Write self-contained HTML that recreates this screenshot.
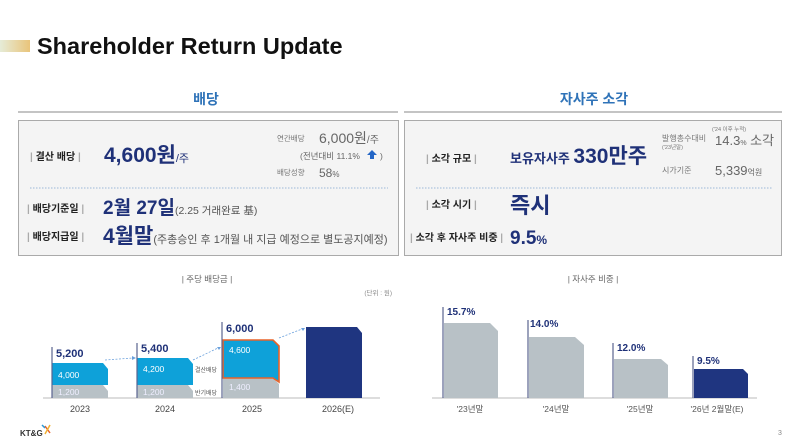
<!DOCTYPE html>
<html><head><meta charset="utf-8"><style>
html,body{margin:0;padding:0;background:#fff;}
svg{display:block;font-family:"Liberation Sans","Noto Sans CJK KR",sans-serif;}
</style></head><body>
<svg width="800" height="446" viewBox="0 0 800 446" xmlns="http://www.w3.org/2000/svg">
<defs>
<linearGradient id="g1" x1="0" x2="1"><stop offset="0" stop-color="#e6ecd8"/><stop offset="1" stop-color="#e9c47a"/></linearGradient>
</defs>
<rect x="0" y="40" width="30" height="12" fill="url(#g1)"/>
<text x="37" y="54" font-size="23.5" font-weight="bold" fill="#111">Shareholder Return Update</text>

<!-- Left section -->
<text x="206" y="104" font-size="14" font-weight="bold" fill="#2f73b8" text-anchor="middle">배당</text>
<line x1="18" y1="112" x2="398" y2="112" stroke="#888" stroke-width="1"/>
<rect x="18.5" y="120.5" width="380" height="135" fill="#f4f4f4" stroke="#aaa"/>
<text x="30" y="160" font-size="10" font-weight="bold" fill="#222"><tspan fill="#aaa">| </tspan>결산 배당<tspan fill="#aaa"> |</tspan></text>
<text x="104" y="162" font-size="21" font-weight="bold" fill="#1f3178">4,600원<tspan font-size="11" font-weight="normal">/주</tspan></text>
<text x="277" y="141" font-size="7.5" fill="#777">연간배당</text>
<text x="319" y="143" font-size="14" fill="#666">6,000원<tspan font-size="10">/주</tspan></text>
<text x="300" y="159" font-size="8.5" fill="#666">(전년대비 11.1%</text>
<path d="M372 150 l5 5 h-3 v4 h-4 v-4 h-3z" fill="#2466c6"/>
<text x="380" y="159" font-size="8.5" fill="#666">)</text>
<text x="277" y="175" font-size="7.5" fill="#777">배당성향</text>
<text x="319" y="177" font-size="12" fill="#666">58<tspan font-size="8">%</tspan></text>
<line x1="30" y1="188" x2="388" y2="188" stroke="#9bb8d8" stroke-dasharray="1.5,1.5"/>
<text x="27" y="212" font-size="10" font-weight="bold" fill="#222"><tspan fill="#aaa">| </tspan>배당기준일<tspan fill="#aaa"> |</tspan></text>
<text x="103" y="214" font-size="19" font-weight="bold" fill="#1f3178">2월 27일<tspan font-size="10.5" font-weight="normal" fill="#555">(2.25 거래완료 基)</tspan></text>
<text x="27" y="240" font-size="10" font-weight="bold" fill="#222"><tspan fill="#aaa">| </tspan>배당지급일<tspan fill="#aaa"> |</tspan></text>
<text x="103" y="243" font-size="21" font-weight="bold" fill="#1f3178">4월말<tspan font-size="11" font-weight="normal" fill="#555">(주총승인 후 1개월 내 지급 예정으로 별도공지예정)</tspan></text>

<!-- Right section -->
<text x="594" y="104" font-size="14" font-weight="bold" fill="#2f73b8" text-anchor="middle">자사주 소각</text>
<line x1="404" y1="112" x2="782" y2="112" stroke="#888"/>
<rect x="404.5" y="120.5" width="377" height="135" fill="#f4f4f4" stroke="#aaa"/>
<text x="426" y="162" font-size="10" font-weight="bold" fill="#222"><tspan fill="#aaa">| </tspan>소각 규모<tspan fill="#aaa"> |</tspan></text>
<text x="510" y="163" font-size="13" font-weight="bold" fill="#1f3178">보유자사주 <tspan font-size="21">330만주</tspan></text>
<text x="712" y="131" font-size="5.5" fill="#777">('24 이후 누적)</text>
<text x="662" y="141" font-size="8" fill="#777">발행총수대비</text>
<text x="662" y="149" font-size="5.5" fill="#777">('23년말)</text>
<text x="715" y="145" font-size="13" fill="#666">14.3<tspan font-size="7">%</tspan> 소각</text>
<text x="662" y="173" font-size="8" fill="#777">시가기준</text>
<text x="715" y="175" font-size="13" fill="#666">5,339<tspan font-size="8">억원</tspan></text>
<line x1="416" y1="188" x2="772" y2="188" stroke="#9bb8d8" stroke-dasharray="1.5,1.5"/>
<text x="426" y="208" font-size="10" font-weight="bold" fill="#222"><tspan fill="#aaa">| </tspan>소각 시기<tspan fill="#aaa"> |</tspan></text>
<text x="510" y="213" font-size="22" font-weight="bold" fill="#1f3178">즉시</text>
<text x="410" y="241" font-size="10" font-weight="bold" fill="#222"><tspan fill="#aaa">| </tspan>소각 후 자사주 비중<tspan fill="#aaa"> |</tspan></text>
<text x="510" y="244" font-size="19" font-weight="bold" fill="#1f3178">9.5<tspan font-size="12">%</tspan></text>

<!-- Left chart -->
<text x="207" y="282" font-size="8.5" fill="#666" text-anchor="middle">| 주당 배당금 |</text>
<text x="392" y="295" font-size="6.5" fill="#888" text-anchor="end">(단위 : 원)</text>
<line x1="43" y1="398" x2="380" y2="398" stroke="#bbb"/>
<polygon points="52,385 103,385 108,391 108,398 52,398" fill="#b8c1c6"/>
<polygon points="52,363 103,363 108,369 108,385 52,385" fill="#0ea1d9"/>
<line x1="52" y1="347" x2="52" y2="398" stroke="#5a6490" stroke-width="1.2"/>
<text x="56" y="357" font-size="11" font-weight="bold" fill="#1f3178">5,200</text>
<text x="58" y="378" font-size="8.5" fill="#fff">4,000</text>
<text x="58" y="395" font-size="8.5" fill="#eef">1,200</text>
<polygon points="137,385 188,385 193,391 193,398 137,398" fill="#b8c1c6"/>
<polygon points="137,358 188,358 193,364 193,385 137,385" fill="#0ea1d9"/>
<line x1="137" y1="343" x2="137" y2="398" stroke="#5a6490" stroke-width="1.2"/>
<text x="141" y="352" font-size="11" font-weight="bold" fill="#1f3178">5,400</text>
<text x="143" y="372" font-size="8.5" fill="#fff">4,200</text>
<text x="143" y="395" font-size="8.5" fill="#eef">1,200</text>
<text x="195" y="372" font-size="6" fill="#555">결산배당</text>
<text x="195" y="395" font-size="6" fill="#555">반기배당</text>
<polygon points="223,378 273,378 279,384 279,398 223,398" fill="#b8c1c6"/>
<polygon points="223,340 273,340 279,346 279,382 273,378 223,378" fill="#0ea1d9" stroke="#e8632a" stroke-width="1.6"/>
<line x1="222" y1="322" x2="222" y2="398" stroke="#5a6490" stroke-width="1.2"/>
<text x="226" y="332" font-size="11" font-weight="bold" fill="#1f3178">6,000</text>
<text x="229" y="353" font-size="8.5" fill="#fff">4,600</text>
<text x="229" y="390" font-size="8.5" fill="#eef">1,400</text>
<polygon points="306,327 357,327 362,333 362,398 306,398" fill="#1f3580"/>
<g stroke="#6aa0dc" stroke-width="0.8" stroke-dasharray="2,1.5" fill="#6aa0dc">
<line x1="105" y1="360" x2="133" y2="358"/>
<line x1="193" y1="360" x2="218" y2="348"/>
<line x1="279" y1="338" x2="302" y2="329"/>
</g>
<g fill="#6aa0dc"><path d="M136 358 l-4 -2 v4z"/><path d="M221 347 l-4 0 l2 3z"/><path d="M305 328 l-4 0 l2 3z"/></g>
<g font-size="9" fill="#444" text-anchor="middle">
<text x="80" y="412">2023</text><text x="165" y="412">2024</text><text x="252" y="412">2025</text><text x="338" y="412">2026(E)</text>
</g>

<!-- Right chart -->
<text x="593" y="282" font-size="8.5" fill="#666" text-anchor="middle">| 자사주 비중 |</text>
<line x1="432" y1="398" x2="757" y2="398" stroke="#bbb"/>
<polygon points="444,323 490,323 498,331 498,398 444,398" fill="#b8c1c6"/>
<line x1="443" y1="307" x2="443" y2="398" stroke="#5a6490" stroke-width="1.2"/>
<text x="447" y="315" font-size="10" font-weight="bold" fill="#1f3178">15.7%</text>
<polygon points="529,337 575,337 584,345 584,398 529,398" fill="#b8c1c6"/>
<line x1="528" y1="320" x2="528" y2="398" stroke="#5a6490" stroke-width="1.2"/>
<text x="530" y="327" font-size="10" font-weight="bold" fill="#1f3178">14.0%</text>
<polygon points="614,359 661,359 668,365 668,398 614,398" fill="#b8c1c6"/>
<line x1="613" y1="343" x2="613" y2="398" stroke="#5a6490" stroke-width="1.2"/>
<text x="617" y="351" font-size="10" font-weight="bold" fill="#1f3178">12.0%</text>
<polygon points="694,369 743,369 748,374 748,398 694,398" fill="#1f3580"/>
<line x1="693" y1="356" x2="693" y2="398" stroke="#5a6490" stroke-width="1.2"/>
<text x="697" y="364" font-size="10" font-weight="bold" fill="#1f3178">9.5%</text>
<g font-size="8.5" fill="#555" text-anchor="middle">
<text x="470" y="412">'23년말</text><text x="556" y="412">'24년말</text><text x="640" y="412">'25년말</text><text x="717" y="412">'26년 2월말(E)</text>
</g>

<text x="778" y="435" font-size="7" fill="#888">3</text>
<text x="20" y="436" font-size="8" font-weight="bold" fill="#333">KT&amp;G</text>
<g stroke-width="1.5"><line x1="45" y1="426" x2="50" y2="433" stroke="#e8632a"/><line x1="50" y1="425" x2="45" y2="434" stroke="#f2b233"/><line x1="42" y1="425" x2="45" y2="428" stroke="#2a9ad8"/></g>
</svg>
</body></html>
